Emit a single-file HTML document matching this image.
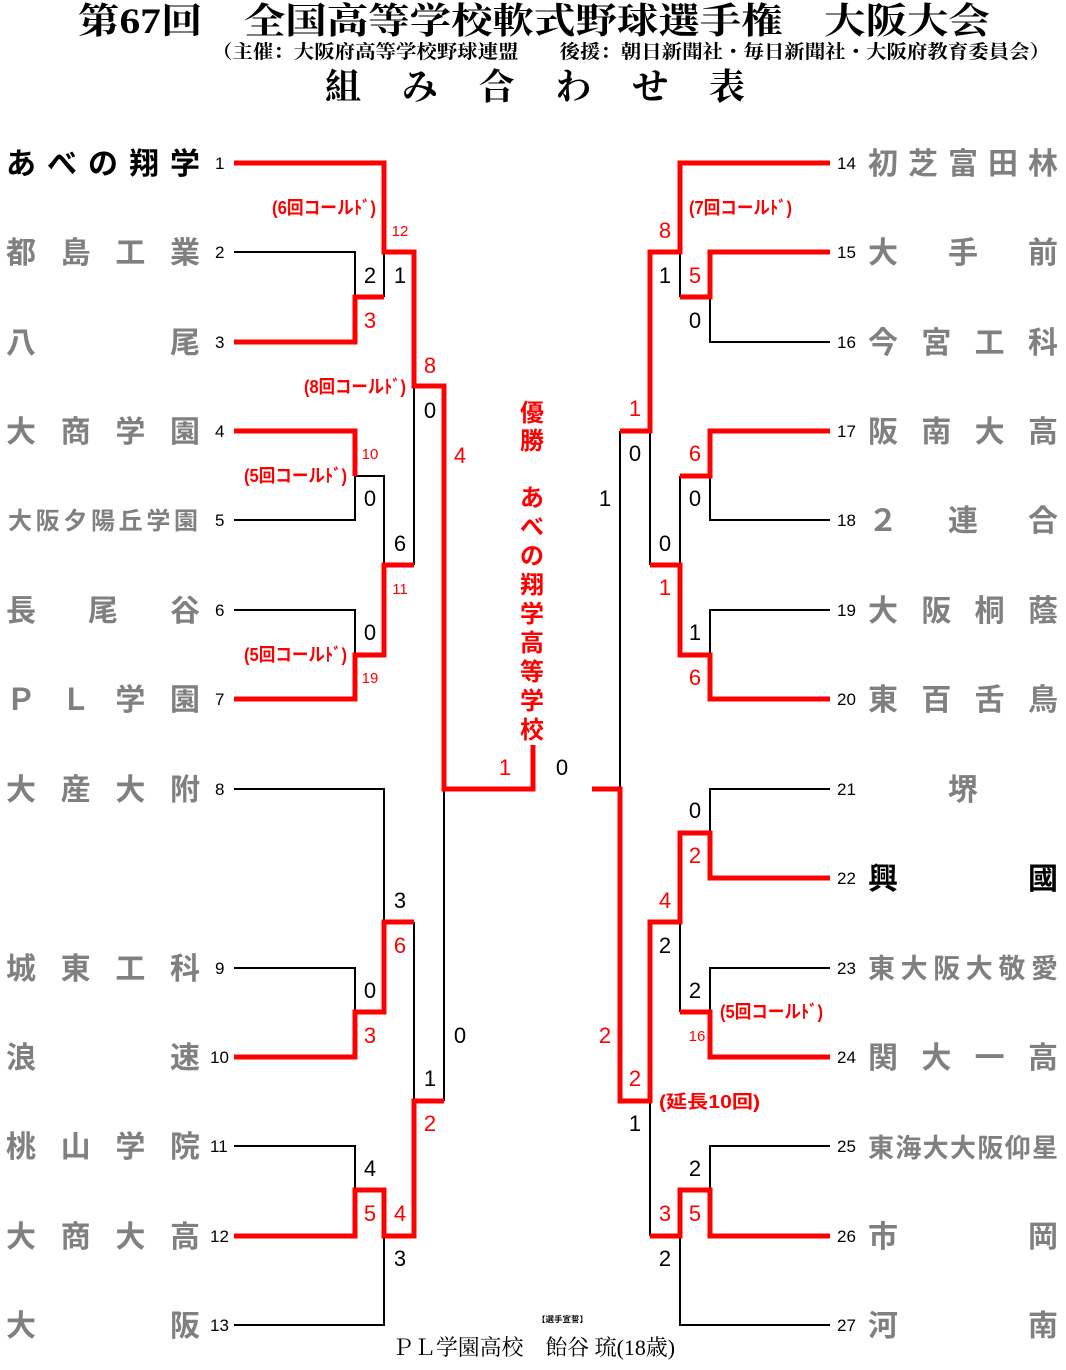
<!DOCTYPE html>
<html><head><meta charset="utf-8"><style>
html,body{margin:0;padding:0;background:#fff;}
svg{display:block;}
.t{font-family:"Liberation Sans","Noto Sans CJK JP",sans-serif;font-weight:bold;font-size:30px;fill:#808080;}
.tb{fill:#000;}
.n{font-family:"Liberation Sans",sans-serif;font-size:17px;fill:#000;}
.s{font-family:"Liberation Sans",sans-serif;font-size:22px;text-anchor:middle;}
.ss{font-family:"Liberation Sans",sans-serif;font-size:15px;text-anchor:middle;fill:#f00;}
.k{fill:#000}.r{fill:#f00}
.c{font-family:"Liberation Sans","Noto Sans CJK JP",sans-serif;font-weight:bold;font-size:18px;fill:#f00;}
.v{font-family:"Liberation Sans","Noto Sans CJK JP",sans-serif;font-weight:bold;font-size:24px;fill:#f00;text-anchor:middle;}
.ser{font-family:"Liberation Serif","Noto Serif CJK SC",serif;font-weight:bold;}
</style></head><body>
<svg width="1066" height="1370" viewBox="0 0 1066 1370" xmlns="http://www.w3.org/2000/svg">
<text class="ser" x="78" y="33" font-size="36" textLength="912" lengthAdjust="spacingAndGlyphs">第67回　全国高等学校軟式野球選手権　大阪大会</text>
<text class="ser" x="212" y="58" font-size="19" textLength="838" lengthAdjust="spacingAndGlyphs">（主催：大阪府高等学校野球連盟　　後援：朝日新聞社・毎日新聞社・大阪府教育委員会）</text>
<text class="ser" x="325" y="99" font-size="36" textLength="420" lengthAdjust="spacing">組み合わせ表</text>

<g fill="none" stroke="#000" stroke-width="2">
<path d="M234 252H355V297M384 252V297M234 520H355V476M355 476H384V565M234 610H355V655M414 386V565"/>
<path d="M234 789H384V922M234 968H355V1012M414 922V1101M234 1146H355V1190M234 1325H384V1236M444 1101V789"/>
<path d="M680 252V297M830 342H710V297M830 520H710V476M680 476V565M830 610H710V655M650 565V431M620 431V789"/>
<path d="M830 789H710V833M830 968H710V1012M680 1012V922M830 1146H710V1190M830 1325H680V1236M650 1236V1101"/>
</g>
<g fill="none" stroke="#f00" stroke-width="5">
<path d="M234 163H384V252H414V386H444V789H533V745"/>
<path d="M234 342H355V297H384"/>
<path d="M234 431H355V476"/>
<path d="M234 699H355V655H384V565H414"/>
<path d="M234 1057H355V1012H384V922H414"/>
<path d="M234 1236H355V1190H384V1236H414V1101H444"/>
<path d="M830 163H680V252H650V431H620"/>
<path d="M830 252H710V297H680"/>
<path d="M830 431H710V476H680"/>
<path d="M830 699H710V655H680V565H650"/>
<path d="M830 878H710V833H680V922H650V1101H620V789H592"/>
<path d="M830 1057H710V1012H680"/>
<path d="M830 1236H710V1190H680V1236H650"/>
</g>

<!-- left names -->
<g class="t">
<text class="t tb" x="6" y="174" textLength="194" lengthAdjust="spacing">あべの翔学</text>
<text x="6" y="263" textLength="194" lengthAdjust="spacing">都島工業</text>
<text x="6" y="353" textLength="194" lengthAdjust="spacing">八尾</text>
<text x="6" y="442" textLength="194" lengthAdjust="spacing">大商学園</text>
<text x="8" y="529" font-size="24" textLength="190" lengthAdjust="spacing">大阪夕陽丘学園</text>
<text x="6" y="621" textLength="194" lengthAdjust="spacing">長尾谷</text>
<text x="6" y="710" textLength="194" lengthAdjust="spacing">ＰＬ学園</text>
<text x="6" y="800" textLength="194" lengthAdjust="spacing">大産大附</text>
<text x="6" y="979" textLength="194" lengthAdjust="spacing">城東工科</text>
<text x="6" y="1068" textLength="194" lengthAdjust="spacing">浪速</text>
<text x="6" y="1157" textLength="194" lengthAdjust="spacing">桃山学院</text>
<text x="6" y="1247" textLength="194" lengthAdjust="spacing">大商大高</text>
<text x="6" y="1336" textLength="194" lengthAdjust="spacing">大阪</text>
</g>
<g class="t">
<text x="868" y="174" textLength="190" lengthAdjust="spacing">初芝富田林</text>
<text x="868" y="263" textLength="190" lengthAdjust="spacing">大手前</text>
<text x="868" y="353" textLength="190" lengthAdjust="spacing">今宮工科</text>
<text x="868" y="442" textLength="190" lengthAdjust="spacing">阪南大高</text>
<text x="868" y="531" textLength="190" lengthAdjust="spacing">２連合</text>
<text x="868" y="621" textLength="190" lengthAdjust="spacing">大阪桐蔭</text>
<text x="868" y="710" textLength="190" lengthAdjust="spacing">東百舌鳥</text>
<text x="963" y="800" text-anchor="middle">堺</text>
<text class="t tb" x="868" y="889" textLength="190" lengthAdjust="spacing">興國</text>
<text x="868" y="978" font-size="27" textLength="190" lengthAdjust="spacing">東大阪大敬愛</text>
<text x="868" y="1068" textLength="190" lengthAdjust="spacing">関大一高</text>
<text x="868" y="1157" font-size="26" textLength="190" lengthAdjust="spacing">東海大大阪仰星</text>
<text x="868" y="1247" textLength="190" lengthAdjust="spacing">市岡</text>
<text x="868" y="1336" textLength="190" lengthAdjust="spacing">河南</text>
</g>
<g class="n">
<text x="215" y="169">1</text><text x="215" y="258">2</text><text x="215" y="348">3</text><text x="215" y="437">4</text><text x="215" y="526">5</text><text x="215" y="616">6</text><text x="215" y="705">7</text><text x="215" y="795">8</text><text x="215" y="974">9</text><text x="210" y="1063">10</text><text x="210" y="1152">11</text><text x="210" y="1242">12</text><text x="210" y="1331">13</text>
<text x="837" y="169">14</text><text x="837" y="258">15</text><text x="837" y="348">16</text><text x="837" y="437">17</text><text x="837" y="526">18</text><text x="837" y="616">19</text><text x="837" y="705">20</text><text x="837" y="795">21</text><text x="837" y="884">22</text><text x="837" y="974">23</text><text x="837" y="1063">24</text><text x="837" y="1152">25</text><text x="837" y="1242">26</text><text x="837" y="1331">27</text>
</g>
<!-- scores -->
<g class="s">
<text class="k" x="370" y="283">2</text><text class="k" x="400" y="283">1</text><text class="r" x="370" y="328">3</text>
<text class="r" x="430" y="373">8</text><text class="k" x="430" y="418">0</text><text class="r" x="460" y="463">4</text>
<text class="k" x="370" y="506">0</text><text class="k" x="400" y="551">6</text><text class="k" x="370" y="640">0</text>
<text class="r" x="505" y="775">1</text><text class="k" x="562" y="775">0</text>
<text class="k" x="400" y="908">3</text><text class="r" x="400" y="953">6</text><text class="k" x="370" y="998">0</text><text class="r" x="370" y="1043">3</text>
<text class="k" x="460" y="1043">0</text><text class="k" x="430" y="1086">1</text><text class="r" x="430" y="1131">2</text>
<text class="k" x="370" y="1176">4</text><text class="r" x="370" y="1221">5</text><text class="r" x="400" y="1221">4</text><text class="k" x="400" y="1266">3</text>
<text class="r" x="665" y="238">8</text><text class="k" x="665" y="283">1</text><text class="r" x="695" y="283">5</text><text class="k" x="695" y="328">0</text>
<text class="r" x="635" y="416">1</text><text class="k" x="635" y="461">0</text><text class="r" x="695" y="461">6</text><text class="k" x="695" y="506">0</text>
<text class="k" x="605" y="506">1</text><text class="k" x="665" y="551">0</text><text class="r" x="665" y="595">1</text>
<text class="k" x="695" y="640">1</text><text class="r" x="695" y="685">6</text>
<text class="k" x="695" y="818">0</text><text class="r" x="695" y="863">2</text><text class="r" x="665" y="908">4</text><text class="k" x="665" y="953">2</text>
<text class="k" x="695" y="998">2</text><text class="r" x="605" y="1043">2</text><text class="r" x="635" y="1086">2</text><text class="k" x="635" y="1131">1</text>
<text class="k" x="695" y="1176">2</text><text class="r" x="695" y="1221">5</text><text class="r" x="665" y="1221">3</text><text class="k" x="665" y="1266">2</text>
</g>
<g class="ss">
<text x="400" y="236">12</text><text x="370" y="459">10</text><text x="400" y="594">11</text><text x="370" y="683">19</text><text x="697" y="1041">16</text>
</g>
<g class="c">
<text x="272" y="214" textLength="104" lengthAdjust="spacingAndGlyphs">(6回コールﾄﾞ)</text>
<text x="304" y="393" textLength="102" lengthAdjust="spacingAndGlyphs">(8回コールﾄﾞ)</text>
<text x="244" y="482" textLength="103" lengthAdjust="spacingAndGlyphs">(5回コールﾄﾞ)</text>
<text x="244" y="661" textLength="103" lengthAdjust="spacingAndGlyphs">(5回コールﾄﾞ)</text>
<text x="689" y="214" textLength="103" lengthAdjust="spacingAndGlyphs">(7回コールﾄﾞ)</text>
<text x="720" y="1018" textLength="103" lengthAdjust="spacingAndGlyphs">(5回コールﾄﾞ)</text>
<text x="659" y="1108" textLength="101" lengthAdjust="spacingAndGlyphs">(延長10回)</text>
</g>
<g class="v">
<text x="532" y="421">優</text><text x="532" y="449">勝</text>
<text x="532" y="506">あ</text><text x="532" y="535">べ</text><text x="532" y="564">の</text><text x="532" y="593">翔</text><text x="532" y="622">学</text><text x="532" y="651">高</text><text x="532" y="680">等</text><text x="532" y="709">学</text><text x="532" y="738">校</text>
</g>
<text x="537" y="1322" font-family="Liberation Sans,Noto Sans CJK JP,sans-serif" font-weight="bold" font-size="8" textLength="51" lengthAdjust="spacingAndGlyphs">【選手宣誓】</text>
<text x="392" y="1355" font-family="Liberation Serif,Noto Serif CJK SC,serif" font-size="22" textLength="283" lengthAdjust="spacingAndGlyphs">ＰＬ学園高校　飴谷 琉(18歳)</text>
</svg>
</body></html>
